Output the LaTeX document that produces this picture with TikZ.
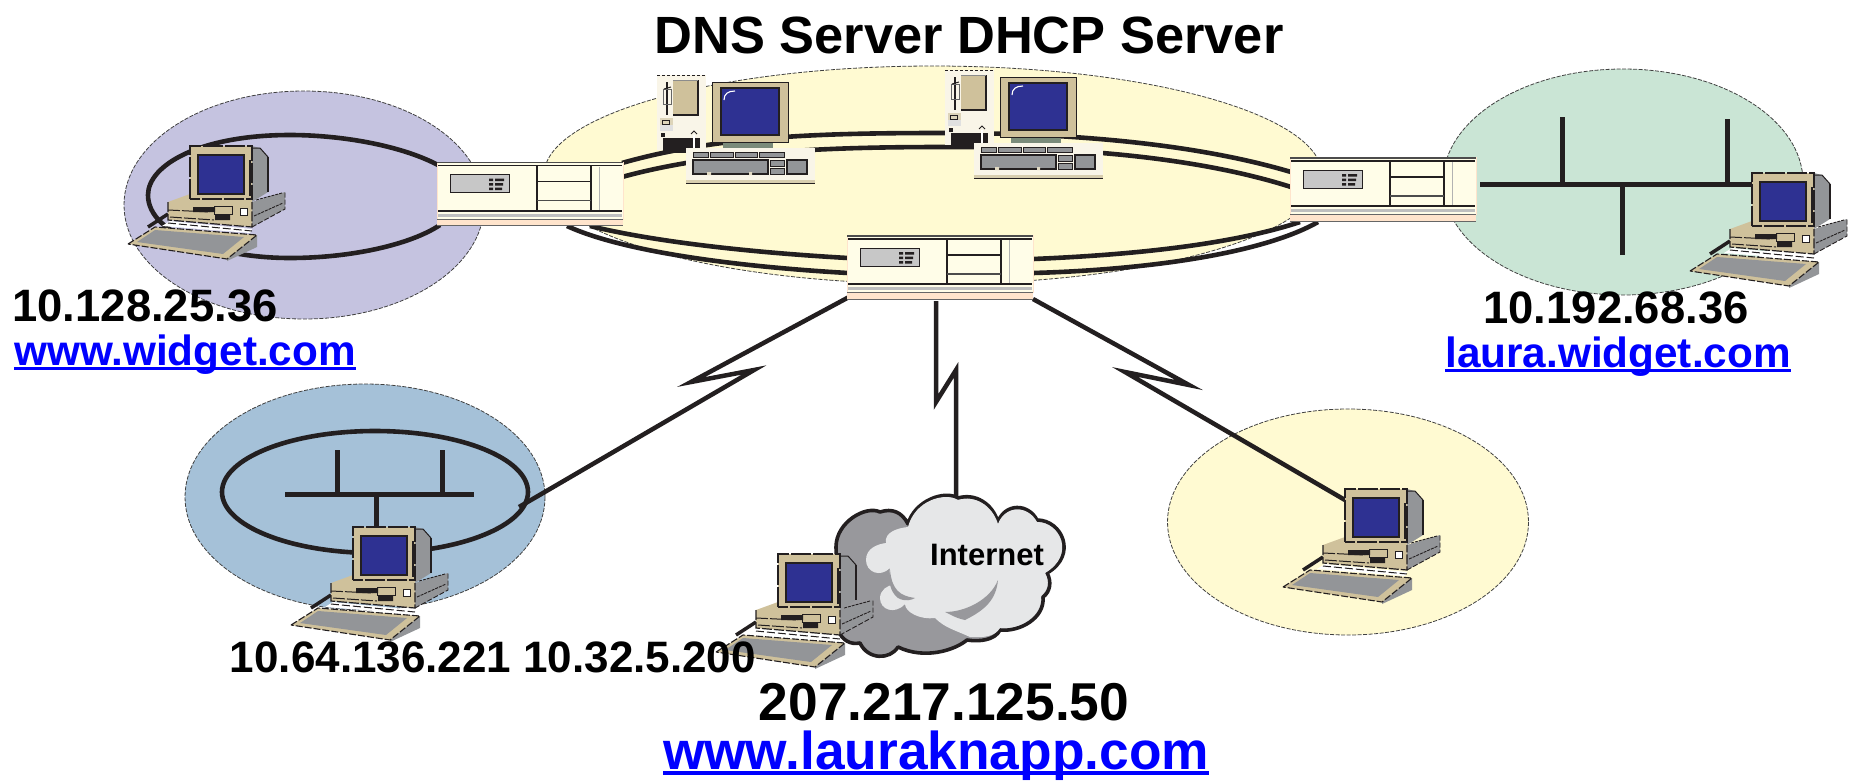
\documentclass[tikz,border=0pt]{standalone}
\usepackage{fontspec}
\setmainfont{Liberation Sans}
\newcommand\linktext[1]{\setbox0\hbox{#1}\rlap{\rule[-0.105em]{\wd0}{0.075em}}\box0}
\newcommand\fsz[1]{\fontsize{#1}{#1}\bfseries\selectfont}
\definecolor{ink}{HTML}{231F20}
\definecolor{tan}{HTML}{CFC19B}
\definecolor{steel}{HTML}{939598}
\definecolor{navy}{HTML}{2E3192}
\definecolor{lilac}{HTML}{C5C3E0}
\definecolor{cream}{HTML}{FFFAD2}
\definecolor{mint}{HTML}{CAE5D5}
\definecolor{skyb}{HTML}{A5C1D8}
\definecolor{offw}{HTML}{F9F5E8}
\definecolor{ivory}{HTML}{FFFDE8}
\definecolor{peach}{HTML}{FFE4CC}
\definecolor{cloudd}{HTML}{98989C}
\definecolor{cloudl}{HTML}{E6E7E8}
\definecolor{link}{HTML}{0000FF}
\definecolor{standc}{HTML}{7A8B7A}
\tikzset{
 zone/.style={draw=black!75,line width=0.8pt,dash pattern=on 4pt off 1.5pt},
 ringline/.style={draw=ink,line width=4.6pt},
 busline/.style={draw=ink,line width=5pt},
 bolt/.style={draw=ink,line width=4.5pt,miter limit=12},
 label/.style={inner sep=0pt,anchor=center,text=black},
 weblabel/.style={inner sep=0pt,anchor=center,text=link},
 router/.pic={
  \fill[ivory] (0,0) rectangle (186,58);
  \fill[peach] (0,58) rectangle (186,64);
  \draw[peach,line width=1pt] (0,0) -- (0,58) (186,0) -- (186,58);
  \fill[black!70] (0,0) rectangle (186,1.5);
  \draw[ink,line width=1.5pt] (1,4) -- (185,4);
  \draw[ink,line width=2pt] (1,49) -- (185,49);
  \fill[black!25] (1,52) rectangle (185,55);
  \draw[black!60,line width=1pt] (0,57.5) -- (186,57.5);
  \draw[black!60,line width=.8pt] (0,64) -- (186,64);
  \draw[ink,line width=.9pt,fill=black!22] (13,13) rectangle (72,31);
  \fill[ink] (52,17) rectangle (56,19.5) (58,17) rectangle (67,19.5)
             (52,21.5) rectangle (56,24) (58,21.5) rectangle (66,24)
             (52,26) rectangle (56,28.5) (58,26) rectangle (65,28.5);
  \draw[ink,line width=2pt] (100,4) -- (100,49) (154,4) -- (154,49);
  \draw[ink,line width=1.6pt] (100,20) -- (154,20);
  \draw[black!70,line width=1.4pt] (100,39) -- (154,39);
  \draw[black!30,line width=1pt] (162,5) -- (162,48);
 },
 deskpc/.pic={
  % keyboard
  \fill[steel] (37,113) -- (67,89) -- (67,101) -- (37,115) -- cycle;
  \fill[tan] (-62,98) -- (-35,81) -- (67,89) -- (37,113) -- cycle;
  \fill[steel] (-53,96) -- (-35,84) -- (54,91) -- (33,108) -- cycle;
  \draw[ink,line width=1.1pt,dash pattern=on 7pt off 2pt] (-62,98) -- (-35,81) -- (67,89) -- (37,113) -- cycle;
  % white gap and cable
  \fill[white] (-20,75) -- (62,83) -- (60,87) -- (-28,80) -- cycle;
  \draw[ink,line width=1pt,dash pattern=on 8pt off 3pt] (-22,77) -- (62,85);
  \draw[ink,line width=3.5pt] (-42,81) -- (-22,68);
  % base
  \fill[steel] (62,56) -- (95,46) -- (95,63) -- (62,81) -- cycle;
  \fill[tan] (-22,56) -- (0,48) -- (62,50) -- (62,81) -- (-22,74) -- cycle;
  \draw[ink,line width=.9pt,dash pattern=on 5pt off 2pt] (62,81) -- (95,63) -- (95,46);
  \draw[ink,line width=.9pt,dash pattern=on 3pt off 1pt] (64,70) -- (93,57);
  \draw[ink,line width=.9pt,dash pattern=on 3pt off 1pt] (66,54) -- (92,47);
  \draw[ink,line width=1.2pt,dash pattern=on 10pt off 2pt] (-22,56) -- (-22,74) -- (62,81) -- (62,56);
  \draw[ink,line width=1pt,dash pattern=on 12pt off 2pt] (-22,64) -- (20,66) (-20,71) -- (24,74);
  \fill[ink] (3,61) rectangle (25,66) (25,69) rectangle (40,74);
  \draw[ink,line width=1pt,fill=white] (50,62) rectangle (57,69);
  \draw[ink,line width=1pt] (24,60) rectangle (42,68);
  % monitor
  \fill[steel] (62,0) -- (70,2) -- (78,11) -- (78,46) -- (62,56) -- cycle;
  \fill[tan] (0,0) rectangle (62,53);
  \draw[ink,line width=1.5pt,dash pattern=on 20pt off 2pt] (0,53) -- (0,0) -- (62,0) -- (62,53) -- cycle;
  \draw[ink,line width=1pt] (62,2) -- (70,2) -- (78,11);
  \draw[ink,line width=1.2pt] (78,11) -- (78,46);
  \draw[ink,line width=2pt] (60,14) -- (60,50);
  \draw[ink,line width=1.8pt,fill=navy] (8,9) rectangle (54,48);
 },
 serverpc/.pic={
  % tower
  \fill[offw] (0,0) rectangle (49,75);
  \draw[ink,line width=.8pt,dash pattern=on 3pt off 2pt] (0,0) -- (49,0);
  \fill[tan] (16,5) rectangle (41,40);
  \draw[ink,line width=1.2pt] (41,5) -- (41,40) -- (16,40);
  \draw[black!45,line width=1pt] (16,5) -- (41,5);
  \draw[ink,line width=2pt] (10,7) -- (10,40);
  \draw[black!60,line width=1pt] (6,14) rectangle (14,29);
  \draw[ink,line width=1pt] (7,14) -- (14,12);
  \fill[tan!70] (3,43) rectangle (16,50);
  \draw[ink,line width=.8pt] (5,45) rectangle (12,49);
  \fill[black!12] (3,50) rectangle (16,56);
  \fill[ink] (4,58) rectangle (8,62);
  \fill[ink] (6,63) rectangle (43,78);
  \draw[white,line width=2pt] (37,60) -- (37,80);
  \draw[ink,line width=.8pt] (34,59) -- (37,56) -- (40,59);
  % monitor
  \fill[standc] (66,67) rectangle (116,73);
  \draw[ink,line width=1pt] (65,73) -- (117,73);
  \fill[tan] (55,7) rectangle (131,67);
  \draw[ink,line width=1pt] (55,67) rectangle (131,7);
  \draw[ink,line width=1.8pt,fill=navy] (64,13) rectangle (122,60);
  \draw[white,line width=1.1pt] (67,25) .. controls (67,19) and (71,16) .. (78,16);
  % keyboard
  \fill[offw] (29,73) rectangle (158,105);
  \fill[tan!80] (29,105) rectangle (158,108);
  \draw[ink,line width=1pt] (29,108.5) -- (158,108.5);
  \foreach \xa/\xb in {36/51,53/76,78/100,102/127}
    \draw[ink,line width=.8pt,fill=steel] (\xa,77) rectangle (\xb,82);
  \draw[ink,line width=1.2pt,fill=steel] (36,85) rectangle (111,99);
  \draw[ink,line width=1pt,fill=steel] (113,85) rectangle (127,91);
  \draw[ink,line width=1pt,fill=steel] (113,93) rectangle (127,99);
  \draw[ink,line width=1.2pt,fill=steel] (130,85) rectangle (150,99);
  \fill[tan!60] (50,97) rectangle (54,100) (92,97) rectangle (95,100);
 }
}
\begin{document}
\begin{tikzpicture}[x=1pt,y=-1pt]
\useasboundingbox (0,0) rectangle (1850,780);
% named anchors
\coordinate (r1) at (437,161.5);
\coordinate (r2) at (1290,157);
\coordinate (r3) at (847,235);
\coordinate (s1) at (657,75);
\coordinate (s2) at (945,70);
\coordinate (pcA) at (190,146);
\coordinate (pcB) at (353,527);
\coordinate (pcC) at (778,554);
\coordinate (pcD) at (1345,489);
\coordinate (pcE) at (1752,173);
\coordinate (r1e1) at (622,163);
\coordinate (r1e2) at (622,177);
\coordinate (r2w1) at (1291,172);
\coordinate (r2w2) at (1291,187);
\coordinate (r1b1) at (590,226);
\coordinate (r1b2) at (567,226);
\coordinate (r3w1) at (848,258);
\coordinate (r3w2) at (848,273);
\coordinate (r3e1) at (1033,259);
\coordinate (r3e2) at (1033,273);
\coordinate (r2b1) at (1300,222);
\coordinate (r2b2) at (1318,222);
\coordinate (r1w1) at (438,165);
\coordinate (r1w2) at (440,225);
% background zones
\fill[lilac] (304,205) ellipse [x radius=180,y radius=114];
\draw[zone] (304,205) ellipse [x radius=180,y radius=114];
\fill[cream] (933,175) ellipse [x radius=389,y radius=109];
\draw[zone] (933,175) ellipse [x radius=389,y radius=109];
\fill[mint] (1623,182) ellipse [x radius=180,y radius=113];
\draw[zone] (1623,182) ellipse [x radius=180,y radius=113];
\fill[skyb] (365,497) ellipse [x radius=180,y radius=113];
\draw[zone] (365,497) ellipse [x radius=180,y radius=113];
\fill[cream] (1348,522) ellipse [x radius=180.5,y radius=113];
\draw[zone] (1348,522) ellipse [x radius=180.5,y radius=113];
% rings
\draw[ringline] (r1e1) .. controls (720,135) and (830,133) .. (945,133) .. controls (1080,133) and (1200,145) .. (r2w1);
\draw[ringline] (r1e2) .. controls (720,150) and (840,147) .. (945,147) .. controls (1080,147) and (1200,158) .. (r2w2);
\draw[ringline] (r1b1) .. controls (660,243) and (760,253) .. (r3w1);
\draw[ringline] (r1b2) .. controls (630,255) and (760,268) .. (r3w2);
\draw[ringline] (r3e1) .. controls (1130,255) and (1230,245) .. (r2b1);
\draw[ringline] (r3e2) .. controls (1140,270) and (1260,255) .. (r2b2);
\draw[ringline] (r1w1) .. controls (400,145) and (340,135) .. (290,135) .. controls (200,135) and (148,165) .. (148,195) .. controls (148,235) and (220,258) .. (290,258) .. controls (350,258) and (410,245) .. (r1w2);
\draw[ringline] (375,492) ellipse [x radius=153,y radius=61];
% buses
\coordinate (b1w) at (285,494); \coordinate (b1e) at (474,494);
\coordinate (b1a) at (337,450); \coordinate (b1a0) at (337,494);
\coordinate (b1b) at (442,450); \coordinate (b1b0) at (442,494);
\coordinate (b1c0) at (376,494);
\draw[busline] (b1w) -- (b1e) (b1a) -- (b1a0) (b1b) -- (b1b0) (b1c0) -- (376,530);
\coordinate (b2w) at (1480,184); \coordinate (b2e) at (1752,184);
\coordinate (b2a) at (1562,117); \coordinate (b2a0) at (1562,184);
\coordinate (b2b) at (1727,119); \coordinate (b2b0) at (1727,184);
\coordinate (b2c) at (1622,255); \coordinate (b2c0) at (1622,184);
\draw[busline] (b2w) -- (b2e) (b2a) -- (b2a0) (b2b) -- (b2b0) (b2c) -- (b2c0);
% WAN links
\coordinate (k1) at (691,382); \coordinate (k2) at (754,370); \coordinate (k1e) at (519,507);
\coordinate (k3) at (936,402); \coordinate (k4) at (956,370); \coordinate (k3e) at (956,500);
\coordinate (k5) at (1189,385); \coordinate (k6) at (1125,372); \coordinate (k5e) at (1345,500);
\coordinate (r3l) at (849,297); \coordinate (r3m) at (936,301); \coordinate (r3r) at (1033,299);
\draw[bolt] (r3l) -- (k1) -- (k2) -- (k1e);
\draw[bolt] (r3m) -- (k3) -- (k4) -- (k3e);
\draw[bolt] (r3r) -- (k5) -- (k6) -- (k5e);
% cloud
\path[fill=cloudd,draw=ink,line width=3.6pt,line join=round]
 (836,547) .. controls (836,522) and (866,505) .. (880,512) .. controls (892,508) and (902,512) .. (908,524)
 .. controls (915,500) and (945,490) .. (958,498) .. controls (975,493) and (992,503) .. (998,522)
 .. controls (1005,503) and (1028,503) .. (1037,520) .. controls (1062,520) and (1078,555) .. (1047,573)
 .. controls (1052,582) and (1050,592) .. (1043,597) .. controls (1045,618) and (1020,632) .. (1000,630)
 .. controls (995,640) and (980,642) .. (967,640) .. controls (955,650) and (925,660) .. (898,647)
 .. controls (890,660) and (868,660) .. (860,643) .. controls (850,645) and (842,640) .. (838,630) -- cycle;
\fill[cloudl]
 (908,527) .. controls (915,500) and (945,492) .. (958,500) .. controls (975,495) and (992,505) .. (998,524)
 .. controls (1005,505) and (1028,505) .. (1037,522) .. controls (1060,522) and (1076,555) .. (1045,573)
 .. controls (1050,582) and (1048,590) .. (1041,596) .. controls (1043,616) and (1020,630) .. (1000,628)
 .. controls (995,636) and (985,638) .. (970,637) .. controls (955,630) and (945,628) .. (935,618)
 .. controls (920,620) and (905,612) .. (905,604) .. controls (895,615) and (880,610) .. (880,598)
 .. controls (880,590) and (888,585) .. (893,585) .. controls (890,578) and (889,572) .. (890,568)
 .. controls (880,578) and (866,572) .. (866,560) .. controls (866,548) and (878,544) .. (886,543)
 .. controls (884,532) and (898,528) .. (908,527) -- cycle;
\fill[cloudd] (998,580) .. controls (996,600) and (985,610) .. (965,620) .. controls (955,618) and (950,614) .. (945,612)
 .. controls (965,612) and (990,600) .. (998,580) -- cycle;
\fill[cloudd] (890,570) .. controls (892,590) and (900,596) .. (915,598) .. controls (912,600) and (905,602) .. (898,598)
 .. controls (890,592) and (888,580) .. (890,570) -- cycle;
\node[label,font=\fsz{31}] (inet) at (987,555) {Internet};
% equipment
\pic at (s1) {serverpc};
\pic at (s2) {serverpc};
\pic at (r1) {router};
\pic at (r2) {router};
\pic at (r3) {router};
\pic at (pcA) {deskpc};
\pic at (pcB) {deskpc};
\pic at (pcC) {deskpc};
\pic at (pcD) {deskpc};
\pic at (pcE) {deskpc};
% labels
\node[label,font=\fsz{52.4}] (title) at (969,35) {DNS Server DHCP Server};
\node[label,font=\fsz{45.4}] (ipA) at (145,306) {10.128.25.36};
\node[weblabel,font=\fsz{42.3}] (webA) at (185,355) {\linktext{www.widget.com}};
\node[label,font=\fsz{45.4}] (ipE) at (1616,308) {10.192.68.36};
\node[weblabel,font=\fsz{42.3}] (webE) at (1618,357) {\linktext{laura.widget.com}};
\node[label,font=\fsz{44}] (ipB) at (493,657) {10.64.136.221 10.32.5.200};
\node[label,font=\fsz{53.3}] (ipC) at (944,702) {207.217.125.50};
\node[weblabel,font=\fsz{53.3}] (webC) at (936,756) {\linktext{www.lauraknapp.com}};
\end{tikzpicture}
\end{document}
